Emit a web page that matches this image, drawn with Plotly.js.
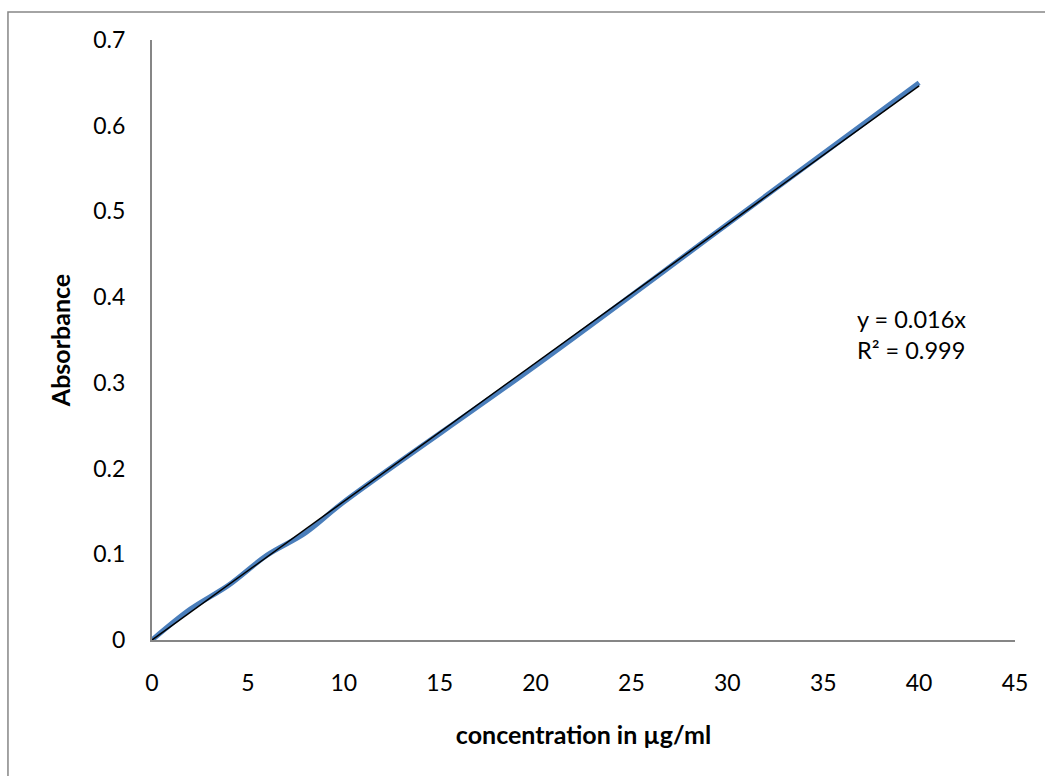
<!DOCTYPE html>
<html>
<head>
<meta charset="utf-8">
<script src="https://cdn.plot.ly/plotly-3.0.1.min.js"></script>
<style>html,body{margin:0;padding:0;background:#fff;}#chart{width:1045px;height:776px;}</style>
</head>
<body>
<div id="chart"></div>
<script>
const concentration = [0, 2, 4, 6, 8, 10, 20, 30, 40];
const absorbance = [0, 0.036, 0.064, 0.099, 0.125, 0.161, 0.32, 0.485, 0.65];
const trendSlope = 0.01616;
const trendX = [0, 40];
const trendY = trendX.map(x => trendSlope * x);
const equationText = "y = 0.016x<br>R² = 0.999";
const xTitle = "concentration in µg/ml";
const yTitle = "Absorbance";

const FONT = "Lato, Open Sans, sans-serif";

const data = [
  {x: concentration, y: absorbance, type: 'scatter', mode: 'lines',
   line: {color: '#4A7EBB', width: 5, shape: 'spline', smoothing: 1}, hoverinfo: 'skip'},
  {x: trendX, y: trendY, type: 'scatter', mode: 'lines',
   line: {color: '#000000', width: 1.5}, hoverinfo: 'skip'}
];

const layout = {
  width: 1045, height: 776,
  margin: {l: 152, r: 30, t: 40, b: 136},
  paper_bgcolor: '#ffffff', plot_bgcolor: '#ffffff',
  showlegend: false,
  font: {family: FONT, size: 23, color: '#000'},
  xaxis: {
    range: [0, 45], dtick: 5, tick0: 0, showgrid: false, zeroline: false,
    showline: true, linecolor: '#868686', linewidth: 2, ticks: '',
    ticklabelstandoff: 21,
    tickfont: {family: FONT, size: 23, color: '#000'},
    title: {text: xTitle, font: {family: FONT, size: 25, color: '#000', weight: 'bold'}, standoff: 32}
  },
  yaxis: {
    range: [0, 0.7], dtick: 0.1, tick0: 0, showgrid: false, zeroline: false,
    showline: true, linecolor: '#868686', linewidth: 2, ticks: '',
    ticklabelstandoff: 20,
    tickfont: {family: FONT, size: 23, color: '#000'},
    title: {text: yTitle, font: {family: FONT, size: 25, color: '#000', weight: 'bold'}, standoff: 16}
  },
  annotations: [{
    x: 36.65, y: 0.357, xref: 'x', yref: 'y', text: equationText,
    showarrow: false, xanchor: 'left', yanchor: 'middle', align: 'left',
    font: {family: FONT, size: 23.5, color: '#000'}
  }],
  shapes: [{
    type: 'rect', xref: 'paper', yref: 'paper',
    x0: -0.1669, x1: 2, y0: -2, y1: 1.0467,
    line: {color: '#868686', width: 1.5}, fillcolor: 'rgba(0,0,0,0)', layer: 'below'
  }]
};

Plotly.newPlot('chart', data, layout, {staticPlot: true, displayModeBar: false});
</script>
</body>
</html>
